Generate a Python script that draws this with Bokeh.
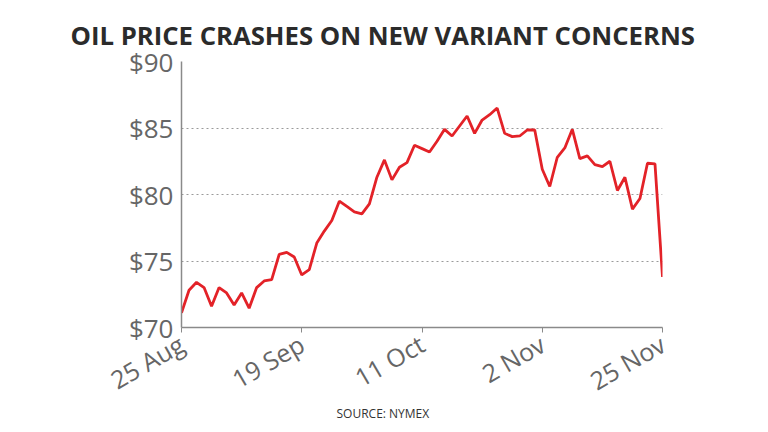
import math
from bokeh.plotting import figure
from bokeh.models import FixedTicker, Range1d, Title
from bokeh.embed import file_html
from bokeh.resources import INLINE

title_text = "OIL PRICE CRASHES ON NEW VARIANT CONCERNS"
source_text = "SOURCE: NYMEX"

prices = [
    71.1, 72.8, 73.4, 73.0, 71.6, 73.0, 72.6, 71.7, 72.6, 71.45,
    73.0, 73.5, 73.6, 75.5, 75.65, 75.3, 73.95, 74.35, 76.35, 77.25,
    78.05, 79.5, 79.1, 78.7, 78.55, 79.3, 81.3, 82.6, 81.1, 82.05,
    82.4, 83.7, 83.45, 83.2, 84.0, 84.9, 84.4, 85.15, 85.9, 84.6,
    85.6, 86.0, 86.5, 84.6, 84.35, 84.4, 84.85, 84.85, 81.9, 80.6,
    82.8, 83.5, 84.9, 82.7, 82.9, 82.25, 82.1, 82.5, 80.3, 81.3,
    78.9, 79.7, 82.35, 82.3, 73.8,
]
day_index = list(range(len(prices)))

tick_index = [0, 16, 32, 48, 64]
tick_labels = ["25 Aug", "19 Sep", "11 Oct", "2 Nov", "25 Nov"]

y_ticks = [70, 75, 80, 85, 90]
y_tick_labels = ["$70", "$75", "$80", "$85", "$90"]
grid_values = [75, 80, 85, 90]

GRAY = "#666666"
FONT = "Open Sans"

p = figure(width=768, height=432, output_backend="svg", toolbar_location=None,
           x_range=Range1d(0, 64), y_range=Range1d(70, 90),
           min_border_left=181, min_border_right=106,
           min_border_top=61, min_border_bottom=105)
p.outline_line_color = None
p.background_fill_color = "white"
p.border_fill_color = "white"

p.line(day_index, prices, line_color="#e32228", line_width=2.8)

# x axis
p.xaxis.ticker = FixedTicker(ticks=tick_index)
p.xaxis.major_label_overrides = {t: l for t, l in zip(tick_index, tick_labels)}
p.xaxis.major_label_orientation = math.pi / 6
p.xaxis.major_label_text_font = FONT
p.xaxis.major_label_text_font_size = "25px"
p.xaxis.major_label_text_color = GRAY
p.xaxis.axis_line_color = "#8a8a8a"
p.xaxis.axis_line_width = 1.5
p.xaxis.major_tick_line_color = "#8a8a8a"
p.xaxis.major_tick_out = 5
p.xaxis.major_tick_in = 0
p.xaxis.minor_tick_line_color = None
p.xaxis.major_label_standoff = 9

# y axis
p.yaxis.ticker = FixedTicker(ticks=y_ticks)
p.yaxis.major_label_overrides = {t: l for t, l in zip(y_ticks, y_tick_labels)}
p.yaxis.major_label_text_font = FONT
p.yaxis.major_label_text_font_size = "26px"
p.yaxis.major_label_text_color = GRAY
p.yaxis.axis_line_color = "#8a8a8a"
p.yaxis.axis_line_width = 1.5
p.yaxis.major_tick_out = 0
p.yaxis.major_tick_in = 0
p.yaxis.minor_tick_line_color = None
p.yaxis.major_label_standoff = 8

p.xgrid.grid_line_color = None
p.ygrid.ticker = FixedTicker(ticks=grid_values)
p.ygrid.grid_line_color = "#9a9a9a"
p.ygrid.grid_line_dash = "2 3"
p.ygrid.grid_line_width = 1

p.add_layout(Title(text=title_text, align="left", offset=-111, standoff=18,
                   text_font=FONT, text_font_style="bold", text_font_size="25.7px",
                   text_color="#2b2b2b"), "above")
p.add_layout(Title(text=source_text, align="left", offset=155, standoff=-20,
                   vertical_align="top",
                   text_font=FONT, text_font_style="normal", text_font_size="12px",
                   text_color="#333333"), "below")

open("out.html", "w").write(file_html(p, INLINE))
